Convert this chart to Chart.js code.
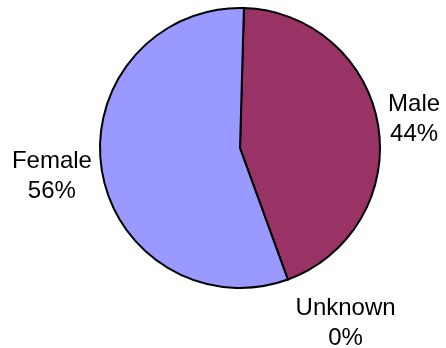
<!DOCTYPE html>
<html>
<head>
<meta charset="utf-8">
<script src="https://cdn.jsdelivr.net/npm/chart.js@4.4.0/dist/chart.umd.min.js"></script>
<style>
  html, body { margin: 0; padding: 0; background: #ffffff; }
  #wrap { width: 446px; height: 348px; position: relative; }
</style>
</head>
<body>
<div id="wrap"><canvas id="genderPie"></canvas></div>
<script>
// ---- Data ----
const categories = ["Male", "Unknown", "Female"];
const percents = [44, 0, 56];
const sliceColors = ["#993366", "#9999FF", "#9999FF"];

// per-label nudge from the arc anchor (px)
const labelNudge = [
  { dx: 2, dy: -5 },
  { dx: 55, dy: 36 },
  { dx: -2, dy: 5 }
];

// ---- Outside labels drawn from the arc geometry ----
const outsideLabels = {
  id: "outsideLabels",
  afterDatasetsDraw(chart) {
    const ctx = chart.ctx;
    const meta = chart.getDatasetMeta(0);
    ctx.save();
    ctx.font = "24px 'Liberation Sans', Arial, sans-serif";
    ctx.fillStyle = "#000000";
    ctx.textBaseline = "middle";
    meta.data.forEach((arc, i) => {
      const p = arc.getProps(["x", "y", "startAngle", "endAngle", "outerRadius"], true);
      const mid = (p.startAngle + p.endAngle) / 2;
      const r = p.outerRadius + 8;
      const cx = Math.cos(mid), sy = Math.sin(mid);
      let x = p.x + cx * r + labelNudge[i].dx;
      let y = p.y + sy * r + labelNudge[i].dy;
      if (i === 1) ctx.textAlign = "center";
      else ctx.textAlign = cx > 0 ? "left" : "right";
      const lines = [categories[i], percents[i] + "%"];
      if (ctx.textAlign !== "center") {
        // center the shorter line under the longer one, like the original
        const w = Math.max(...lines.map(t => ctx.measureText(t).width));
        x = cx > 0 ? x + w / 2 : x - w / 2;
        ctx.textAlign = "center";
      }
      lines.forEach((t, k) => {
        ctx.fillText(t, x, y + (k - 0.5) * 30);
      });
    });
    ctx.restore();
  }
};

const ctx = document.getElementById("genderPie").getContext("2d");
new Chart(ctx, {
  type: "pie",
  data: {
    labels: categories,
    datasets: [{
      data: percents,
      backgroundColor: sliceColors,
      borderColor: "#000000",
      borderWidth: 2,
      borderJoinStyle: "miter"
    }]
  },
  options: {
    responsive: true,
    maintainAspectRatio: false,
    animation: false,
    rotation: 1.6,
    layout: { padding: { left: 99, right: 65, top: 7, bottom: 59 } },
    plugins: {
      legend: { display: false },
      tooltip: { enabled: false }
    }
  },
  plugins: [outsideLabels]
});
</script>
</body>
</html>
